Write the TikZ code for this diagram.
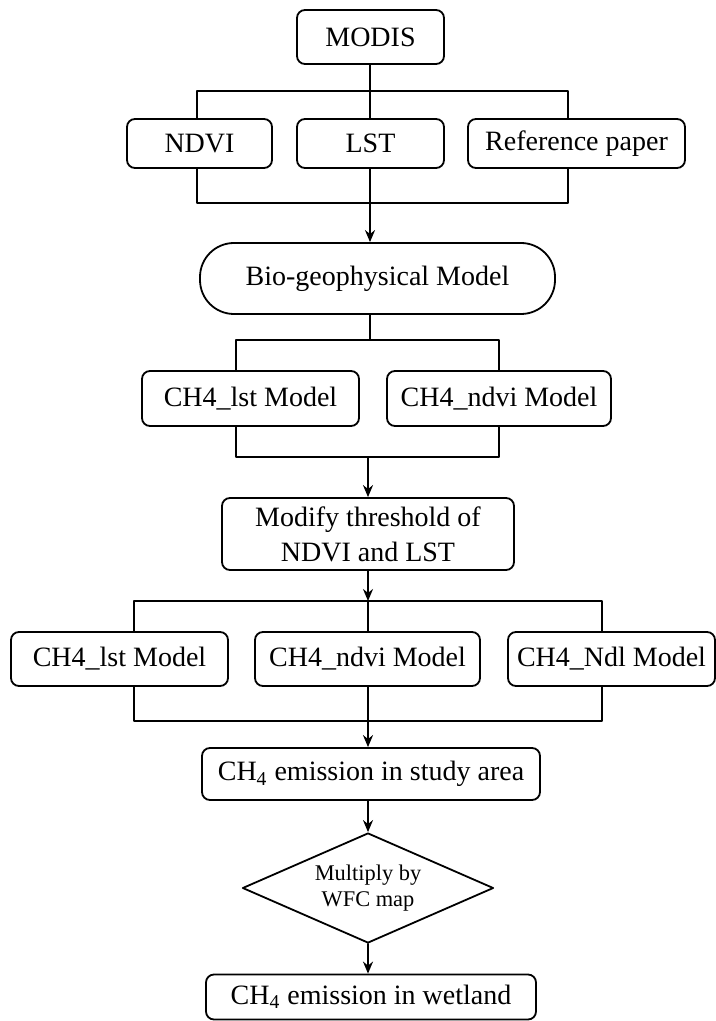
\documentclass[tikz,border=0pt]{standalone}
\usepackage{fontspec}
\setmainfont{Liberation Serif}
\usetikzlibrary{arrows.meta, shapes.geometric, positioning}

\begin{document}
\begin{tikzpicture}[x=0.5pt, y=-0.5pt, line width=0.9pt, line cap=round, line join=round,
    box/.style={draw, rounded corners=4pt, inner sep=2pt, align=center,
                font=\fontsize{14pt}{17.5pt}\selectfont},
    arr/.style={-{Stealth[length=6pt, width=5pt]}}]

      \useasboundingbox (0,0) rectangle (716,1021);

      % Datos de entrada
      \node[box, minimum width=73.5pt, minimum height=27pt] (modis) at (370.5, 37) {MODIS};
      \node[box, minimum width=72.5pt, minimum height=24.5pt] (ndvi) at (199.5, 143.5) {NDVI};
      \node[box, minimum width=73.5pt, minimum height=24.5pt] (lst) at (370.5, 143.5) {LST};
      \node[box, minimum width=108.5pt, minimum height=24.5pt] (refp) at (576.5, 143.5) {Reference paper};

      % Modelo
      \node[box, rounded corners=17pt, minimum width=177.5pt, minimum height=35.5pt] (bio) at (377.5, 278.5) {Bio-geophysical Model};

      \node[box, minimum width=108.5pt, minimum height=27.5pt] (lstm) at (250.5, 398.5) {CH4\_lst Model};
      \node[box, minimum width=112pt, minimum height=27.5pt] (ndvim) at (499, 398.5) {CH4\_ndvi Model};

      \node[box, minimum width=146pt, minimum height=36pt] (modify) at (368, 534) {Modify threshold of\\NDVI and LST};

      \node[box, minimum width=108.5pt, minimum height=27pt] (lsttwo) at (119.5, 659) {CH4\_lst Model};
      \node[box, minimum width=112.5pt, minimum height=27pt] (ndvitwo) at (367.5, 659) {CH4\_ndvi Model};
      \node[box, minimum width=103.5pt, minimum height=27pt] (ndl) at (611.5, 659) {CH4\_Ndl Model};

      % Resultados
      \node[box, minimum width=169pt, minimum height=26pt] (study) at (371, 774) {CH\textsubscript{4} emission in study area};
      \node[draw, diamond, aspect=2.28, inner sep=0pt, minimum width=125.5pt, minimum height=55pt,
            align=center, font=\fontsize{11.2pt}{13pt}\selectfont] (wfc) at (368, 888) {Multiply by\\WFC map};
      \node[box, minimum width=165pt, minimum height=22.5pt] (wet) at (371, 997) {CH\textsubscript{4} emission in wetland};

      % Conectores
      \coordinate (s1) at (370, 91);
      \coordinate (j1) at (370, 203);
      \coordinate (s2) at (370, 340);
      \coordinate (j2) at (368, 457);
      \coordinate (s3) at (368, 601);
      \coordinate (j3) at (368, 721);

      \draw (modis.south -| s1) -- (s1);
      \draw ([xshift=-1.25pt]ndvi.north) |- (s1) -| ([xshift=-4.25pt]refp.north);
      \draw (s1) -- (lst.north -| s1);
      \draw ([xshift=-1.25pt]ndvi.south) |- (j1) -| ([xshift=-4.25pt]refp.south);
      \draw (lst.south -| j1) -- (j1);
      \draw[arr] (j1) -- (j1 |- bio.north);

      \draw (bio.south -| s2) -- (s2);
      \draw ([xshift=-7.25pt]lstm.north) |- (s2) -| (ndvim.north);
      \draw ([xshift=-7.25pt]lstm.south) |- (j2) -| (ndvim.south);
      \draw[arr] (j2) -- (j2 |- modify.north);

      \draw[arr] (modify.south -| s3) -- (s3);
      \draw ([xshift=7.25pt]lsttwo.north) |- (s3) -| ([xshift=-4.75pt]ndl.north);
      \draw (s3) -- (ndvitwo.north -| s3);
      \draw ([xshift=7.25pt]lsttwo.south) |- (j3) -| ([xshift=-4.75pt]ndl.south);
      \draw (ndvitwo.south -| j3) -- (j3);
      \draw[arr] (j3) -- (j3 |- study.north);

      \draw[arr] (study.south -| wfc.north) -- (wfc.north);
      \draw[arr] (wfc.south) -- (wfc.south |- wet.north);
    \end{tikzpicture}
\end{document}
